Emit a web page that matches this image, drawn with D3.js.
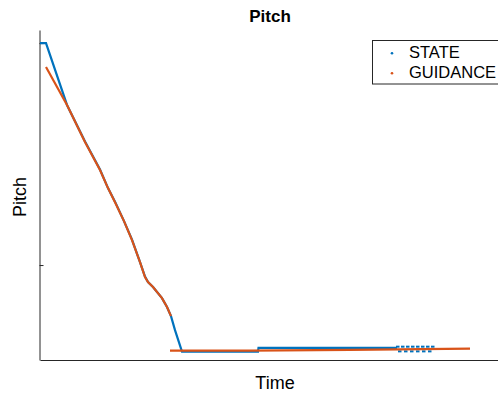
<!DOCTYPE html>
<html>
<head>
<meta charset="utf-8">
<title>Pitch</title>
<script src="https://cdn.jsdelivr.net/npm/d3@7"></script>
<style>
  body { margin: 0; background: #fff; }
  .axis path, .axis line { fill: none; stroke: #262626; }
  text { font-family: "Liberation Sans", Arial, sans-serif; fill: #000; }
</style>
</head>
<body>
<script>
// data: time vs pitch (deg)
var stateTime  = [0, 6, 27, 45, 60, 68, 75, 84, 92, 100, 105, 108, 113, 122, 127, 131, 135, 142, 218, 218.5, 357];
var statePitch = [90, 90, 64.9, 50.1, 38.7, 31.2, 25.7, 17.8, 10.3, 1.2, -4.7, -6.9, -8.9, -13.4, -17.0, -20.7, -26.4, -35.1, -35.1, -33.6, -33.6];
// oscillating stretch at the end of STATE (drawn as dots)
var oscTime  = [358, 363, 368, 373, 378, 383, 388, 393, 360, 366, 372, 378, 384, 390];
var oscPitch = [-33.1, -33.1, -33.1, -33.1, -33.1, -33.1, -33.1, -33.1, -35.0, -35.0, -35.0, -35.0, -35.0, -35.0];

var guidTime1  = [6, 27, 45, 60, 68, 75, 84, 92, 100, 105, 108, 113, 122, 127, 131];
var guidPitch1 = [80.3, 64.9, 49.9, 38.5, 31.2, 25.5, 17.8, 10.1, 1.2, -4.9, -6.9, -8.9, -13.4, -17.0, -20.7];
var guidTime2  = [130, 210, 310, 430];
var guidPitch2 = [-34.7, -34.7, -34.4, -33.9];

var yTicks = [0, 90];
var legendNames = ["STATE", "GUIDANCE"];
var colors = ["#0072BD", "#D95319"];

var width = 498, height = 394;
var padL = 40, padR = 505, padT = 30, padB = 360;

var svg = d3.select("body").append("svg")
  .attr("width", width)
  .attr("height", height);

var x = d3.scaleLinear().domain([0, 465]).range([padL, padR]);
var y = d3.scaleLinear().domain([-38.5, 95.3]).range([padB, padT]);

var zip = function (a, b) { return a.map(function (d, i) { return [d, b[i]]; }); };
var line = d3.line()
  .x(function (d) { return x(d[0]); })
  .y(function (d) { return y(d[1]); });

// axes
svg.append("g")
  .attr("class", "axis")
  .attr("transform", "translate(0," + padB + ")")
  .call(d3.axisBottom(x).tickValues([]).tickSizeOuter(0));

svg.append("g")
  .attr("class", "axis")
  .attr("transform", "translate(" + (padL - 0.5) + ",0)")
  .call(d3.axisLeft(y).tickValues(yTicks).tickSize(-4).tickSizeOuter(0).tickFormat(""));

// series
svg.append("path")
  .attr("d", line(zip(stateTime, statePitch)))
  .attr("fill", "none")
  .attr("stroke", colors[0])
  .attr("stroke-width", 2.2);

svg.selectAll(".osc")
  .data(zip(oscTime, oscPitch))
  .enter().append("rect")
  .attr("class", "osc")
  .attr("x", function (d) { return x(d[0]) - 2; })
  .attr("y", function (d) { return y(d[1]) - 1; })
  .attr("width", 3.5)
  .attr("height", 2)
  .attr("fill", colors[0]);

[zip(guidTime1, guidPitch1), zip(guidTime2, guidPitch2)].forEach(function (seg) {
  svg.append("path")
    .attr("d", line(seg))
    .attr("fill", "none")
    .attr("stroke", colors[1])
    .attr("stroke-width", 2.2);
});

// title and labels
svg.append("text")
  .attr("x", 270).attr("y", 22)
  .attr("text-anchor", "middle")
  .style("font-size", "17px")
  .style("font-weight", "bold")
  .text("Pitch");

svg.append("text")
  .attr("x", 275).attr("y", 389)
  .attr("text-anchor", "middle")
  .style("font-size", "18px")
  .text("Time");

svg.append("text")
  .attr("transform", "translate(26,197) rotate(-90)")
  .attr("text-anchor", "middle")
  .style("font-size", "18px")
  .text("Pitch");

// legend
var legend = svg.append("g");
legend.append("rect")
  .attr("x", 372.5).attr("y", 40.5)
  .attr("width", 140).attr("height", 43.5)
  .attr("fill", "#fff")
  .attr("stroke", "#262626");

legend.selectAll("g")
  .data(legendNames)
  .enter().append("g")
  .each(function (d, i) {
    var g = d3.select(this);
    g.append("circle")
      .attr("cx", 392).attr("cy", 53.3 + i * 20)
      .attr("r", 1.3)
      .attr("fill", colors[i]);
    g.append("text")
      .attr("x", 409).attr("y", 57.5 + i * 20.3)
      .style("font-size", "16.5px")
      .text(d);
  });
</script>
</body>
</html>
